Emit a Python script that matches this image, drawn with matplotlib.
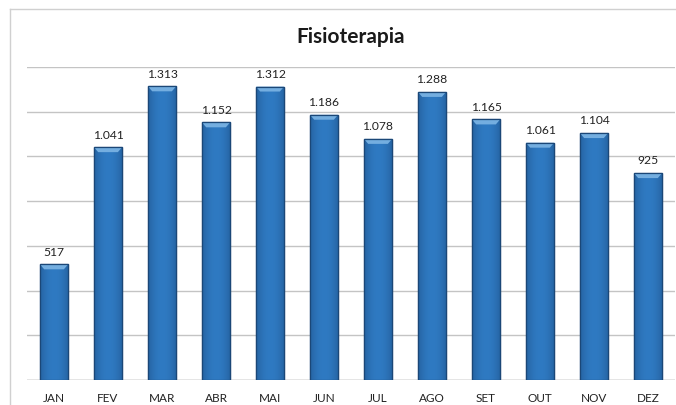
import matplotlib.pyplot as plt
import numpy as np
from matplotlib.patches import Rectangle, Polygon

# Monthly counts
months = ['JAN', 'FEV', 'MAR', 'ABR', 'MAI', 'JUN', 'JUL', 'AGO', 'SET', 'OUT', 'NOV', 'DEZ']
values = [517, 1041, 1313, 1152, 1312, 1186, 1078, 1288, 1165, 1061, 1104, 925]
labels = ['517', '1.041', '1.313', '1.152', '1.312', '1.186', '1.078', '1.288',
          '1.165', '1.061', '1.104', '925']

plt.rcParams['font.family'] = ['Lato', 'DejaVu Sans']

fig = plt.figure(figsize=(6.76, 4.05), dpi=100)
ax = fig.add_axes([0.040, 0.0617, 0.9585, 0.773])

x = np.arange(len(months))
width = 0.52

# horizontal gray gridlines every 200
ax.set_ylim(0, 1400)
ax.set_xlim(-0.5, len(months) - 0.5)
ax.set_yticks(np.arange(0, 1401, 200))
ax.yaxis.grid(True, color='#c4c4c4', linewidth=1)
ax.set_axisbelow(True)
ax.tick_params(axis='y', left=False, labelleft=False)
ax.tick_params(axis='x', bottom=False, labelsize=8.5, pad=6, colors='#222222')
for s in ax.spines.values():
    s.set_visible(False)

bars = ax.bar(x, values, width=width, color='#2a6db1', edgecolor='#1b4777', linewidth=0.9)

# horizontal shading so the bars look rounded like the Excel style
grad = np.linspace(0, 1, 64)
shade = 1 - 0.55 * (2 * np.abs(grad - 0.5)) ** 2
cmap_img = np.zeros((1, 64, 3))
base = np.array([0x2f, 0x7a, 0xc2]) / 255.0
dark = np.array([0x1d, 0x4f, 0x86]) / 255.0
for i, t in enumerate(shade):
    cmap_img[0, i] = dark + (base - dark) * t
for b in bars:
    x0, w, h = b.get_x(), b.get_width(), b.get_height()
    im = ax.imshow(cmap_img, extent=[x0, x0 + w, 0, h], aspect='auto', zorder=2.1)
    im.set_clip_path(b)
    # light bevel at the top of each bar
    ax.add_patch(Polygon([(x0, h), (x0 + w, h), (x0 + w * 0.85, h - 22), (x0 + w * 0.15, h - 22)],
                         closed=True, facecolor='#74aee0', edgecolor='none', zorder=2.2))
    ax.add_patch(Rectangle((x0, 0), w, h, facecolor='none', edgecolor='#1b4777',
                           linewidth=0.9, zorder=2.3))

for xi, v, lab in zip(x, values, labels):
    ax.text(xi, v + 30, lab, ha='center', va='bottom', fontsize=8.7, color='#222222')

ax.set_xticks(x)
ax.set_xticklabels(months)
ax.axhline(0, color='#b0b0b0', linewidth=1)

fig.text(0.518, 0.908, 'Fisioterapia', ha='center', va='center', fontsize=15,
         fontweight='bold', color='#1a1a1a')

# chart area border (top and left visible in the crop)
fig.add_artist(plt.Line2D([10 / 676, 1], [1 - 9 / 405, 1 - 9 / 405], color='#d0d0d0', linewidth=1))
fig.add_artist(plt.Line2D([10 / 676, 10 / 676], [0, 1 - 9 / 405], color='#d0d0d0', linewidth=1))

fig.savefig('out.png', dpi=100)
